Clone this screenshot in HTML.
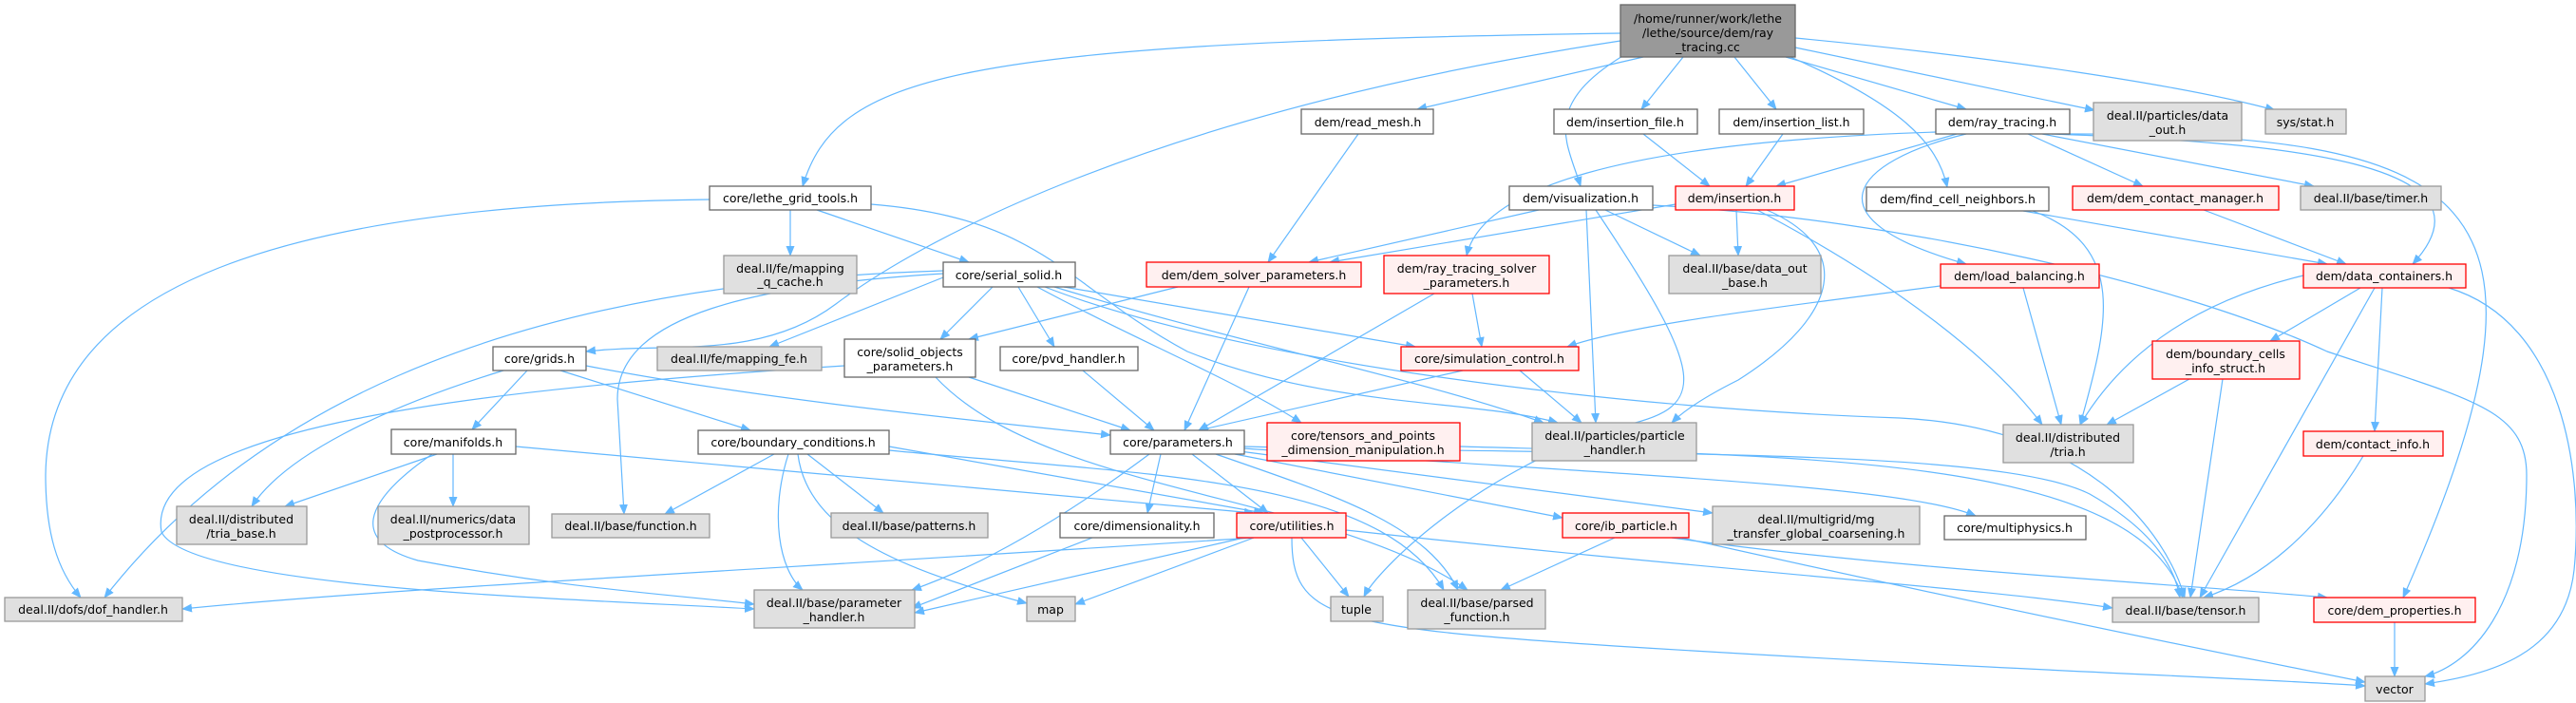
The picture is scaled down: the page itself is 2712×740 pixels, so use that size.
<!DOCTYPE html>
<html><head><meta charset="utf-8"><style>
html,body{margin:0;padding:0;background:#fff;}
svg{display:block;}
text{font-family:"DejaVu Sans","Liberation Sans",sans-serif;font-size:12.5px;fill:#000;text-anchor:middle;transform:translateY(1px);}
.e{fill:none;stroke:#63b8ff;stroke-width:1.2;marker-end:url(#a);}
.w{fill:#fff;stroke:#666;stroke-width:1.3;}
.g{fill:#e0e0e0;stroke:#999;stroke-width:1.3;}
.r{fill:#fff0f0;stroke:#ff0000;stroke-width:1.3;}
.k{fill:#999;stroke:#666;stroke-width:1.3;}
</style></head><body>
<svg width="2712" height="740" viewBox="0 0 2712 740" xmlns="http://www.w3.org/2000/svg">
<defs><marker id="a" markerWidth="11" markerHeight="9" refX="10" refY="4.5" orient="auto" markerUnits="userSpaceOnUse"><path d="M0,0 L11,4.5 L0,9z" fill="#63b8ff"/></marker></defs>
<g>
<path class="e" d="M1706,35 C1000,45 880,80 845,196"/>
<path class="e" d="M1706,43 C1200,120 960,260 880,320 S700,360 617,370"/>
<path class="e" d="M1730,60 L1492,115"/>
<path class="e" d="M1715,55 C1620,110 1650,150 1664,196"/>
<path class="e" d="M1772,60 L1728,115"/>
<path class="e" d="M1826,60 L1870,115"/>
<path class="e" d="M1880,60 L2070,115"/>
<path class="e" d="M1885,60 C2000,110 2040,150 2050,197"/>
<path class="e" d="M1890,50 L2205,116"/>
<path class="e" d="M1890,40 C2100,60 2300,90 2395,116"/>
<path class="e" d="M2060,141 L1870,196"/>
<path class="e" d="M2038,139 C1700,150 1560,200 1544,269"/>
<path class="e" d="M2070,141 C1950,170 1900,230 2070,278"/>
<path class="e" d="M2135,141 L2256,196"/>
<path class="e" d="M2150,141 L2436,196"/>
<path class="e" d="M2160,141 C2400,150 2640,170 2540,278"/>
<path class="e" d="M2170,141 C2600,140 2720,200 2530,629"/>
<path class="e" d="M1730,141 L1800,196"/>
<path class="e" d="M1877,141 L1838,196"/>
<path class="e" d="M1430,141 L1335,276"/>
<path class="e" d="M1620,221 L1378,276"/>
<path class="e" d="M1690,221 L1790,269"/>
<path class="e" d="M1670,221 L1680,445"/>
<path class="e" d="M1680,221 C1800,400 1800,430 1700,450 C1550,500 1450,600 1436,628"/>
<path class="e" d="M1740,216 C2000,230 2300,300 2450,370 C2600,420 2660,430 2660,500 C2660,640 2600,700 2553,712"/>
<path class="e" d="M1764,215 L1400,276"/>
<path class="e" d="M1828,221 L1830,269"/>
<path class="e" d="M1860,221 C1950,260 1940,330 1830,400 C1790,420 1770,435 1760,445"/>
<path class="e" d="M1850,221 C2000,300 2100,380 2150,447"/>
<path class="e" d="M1240,302 L1020,357"/>
<path class="e" d="M1315,302 L1247,453"/>
<path class="e" d="M1550,309 L1560,365"/>
<path class="e" d="M1510,309 L1262,453"/>
<path class="e" d="M2050,300 C1900,320 1720,340 1650,365"/>
<path class="e" d="M2130,303 L2170,447"/>
<path class="e" d="M2130,222 L2450,278"/>
<path class="e" d="M2140,222 C2240,260 2220,340 2190,447"/>
<path class="e" d="M2320,221 L2470,278"/>
<path class="e" d="M2485,303 L2390,359"/>
<path class="e" d="M2500,303 L2316,629"/>
<path class="e" d="M2508,303 L2500,454"/>
<path class="e" d="M2425,290 C2300,320 2230,380 2190,447"/>
<path class="e" d="M2578,303 C2700,340 2720,500 2710,600 C2700,690 2620,710 2553,720"/>
<path class="e" d="M2305,399 L2218,447"/>
<path class="e" d="M2340,399 L2306,629"/>
<path class="e" d="M2488,480 C2440,560 2380,610 2320,629"/>
<path class="e" d="M2521,655 L2521,712"/>
<path class="e" d="M1540,390 L1262,453"/>
<path class="e" d="M1600,390 L1665,445"/>
<path class="e" d="M1045,302 L990,357"/>
<path class="e" d="M1072,302 L1110,365"/>
<path class="e" d="M1120,302 L1490,365"/>
<path class="e" d="M1092,302 C1200,360 1300,400 1370,445"/>
<path class="e" d="M1110,302 C1300,360 1500,400 1625,445"/>
<path class="e" d="M1100,302 C1300,380 1700,430 2000,440 C2200,450 2280,560 2300,629"/>
<path class="e" d="M993,292 L810,365"/>
<path class="e" d="M993,285 C500,300 250,450 110,629"/>
<path class="e" d="M993,288 C800,300 650,330 650,420 L657,541"/>
<path class="e" d="M1020,397 L1190,453"/>
<path class="e" d="M889,385 C500,410 150,450 170,560 C200,620 600,630 794,641"/>
<path class="e" d="M985,397 C1100,520 1400,520 1545,621"/>
<path class="e" d="M1140,390 L1215,453"/>
<path class="e" d="M832,221 L832,269"/>
<path class="e" d="M860,221 L1020,276"/>
<path class="e" d="M747,210 C300,215 50,300 48,500 C48,560 60,600 85,629"/>
<path class="e" d="M917,215 C1100,230 1120,300 1250,370 C1400,430 1550,420 1640,445"/>
<path class="e" d="M555,390 L497,452"/>
<path class="e" d="M590,390 L790,453"/>
<path class="e" d="M530,390 C400,430 300,480 265,533"/>
<path class="e" d="M617,385 C800,420 1000,440 1169,458"/>
<path class="e" d="M460,478 L300,533"/>
<path class="e" d="M477,478 L477,533"/>
<path class="e" d="M455,478 C380,530 370,570 440,590 C600,620 700,625 794,636"/>
<path class="e" d="M543,470 C900,500 1200,530 1320,540"/>
<path class="e" d="M815,478 L700,541"/>
<path class="e" d="M850,478 L930,540"/>
<path class="e" d="M830,478 C810,540 820,600 845,621"/>
<path class="e" d="M840,478 C850,560 950,600 1081,635"/>
<path class="e" d="M936,470 L1330,540"/>
<path class="e" d="M936,474 C1200,500 1450,500 1520,621"/>
<path class="e" d="M1222,478 L1208,540"/>
<path class="e" d="M1255,478 L1335,540"/>
<path class="e" d="M1210,478 C1100,560 1020,600 960,621"/>
<path class="e" d="M1280,478 C1400,520 1500,550 1535,621"/>
<path class="e" d="M1300,478 L1645,545"/>
<path class="e" d="M1305,475 L1803,540"/>
<path class="e" d="M1310,472 C1700,500 2000,510 2080,543"/>
<path class="e" d="M1310,470 C1700,480 2100,470 2200,520 C2270,560 2290,600 2295,629"/>
<path class="e" d="M1150,566 L960,640"/>
<path class="e" d="M1320,566 C800,600 400,620 192,641"/>
<path class="e" d="M1310,566 L963,645"/>
<path class="e" d="M1320,566 L1132,636"/>
<path class="e" d="M1370,566 L1420,628"/>
<path class="e" d="M1417,558 C1800,600 2100,620 2224,640"/>
<path class="e" d="M1360,566 C1360,650 1400,660 1700,680 C2100,705 2400,715 2490,722"/>
<path class="e" d="M1700,566 L1580,621"/>
<path class="e" d="M1760,566 C2000,600 2300,615 2450,629"/>
<path class="e" d="M1770,566 C2100,640 2400,700 2490,718"/>
<path class="e" d="M1537,470 C1900,480 2250,480 2298,629"/>
</g>
<g>
<rect class="k" x="1706" y="5" width="184" height="55"/><text x="1798" y="23">/home/runner/work/lethe</text><text x="1798" y="38">/lethe/source/dem/ray</text><text x="1798" y="53">_tracing.cc</text>
<rect class="w" x="747" y="196" width="170" height="25"/><text x="832" y="212">core/lethe_grid_tools.h</text>
<rect class="g" x="762" y="269" width="140" height="40"/><text x="832" y="286">deal.II/fe/mapping</text><text x="832" y="300">_q_cache.h</text>
<rect class="w" x="519" y="365" width="98" height="25"/><text x="568" y="381">core/grids.h</text>
<rect class="g" x="692" y="365" width="173" height="25"/><text x="778" y="381">deal.II/fe/mapping_fe.h</text>
<rect class="w" x="412" y="452" width="131" height="26"/><text x="477" y="469">core/manifolds.h</text>
<rect class="w" x="735" y="453" width="201" height="25"/><text x="835" y="469">core/boundary_conditions.h</text>
<rect class="g" x="186" y="533" width="137" height="40"/><text x="254" y="550">deal.II/distributed</text><text x="254" y="565">/tria_base.h</text>
<rect class="g" x="398" y="533" width="159" height="40"/><text x="477" y="550">deal.II/numerics/data</text><text x="477" y="565">_postprocessor.h</text>
<rect class="g" x="581" y="541" width="166" height="25"/><text x="664" y="557">deal.II/base/function.h</text>
<rect class="g" x="5" y="629" width="187" height="25"/><text x="98" y="645">deal.II/dofs/dof_handler.h</text>
<rect class="g" x="794" y="621" width="169" height="40"/><text x="878" y="638">deal.II/base/parameter</text><text x="878" y="653">_handler.h</text>
<rect class="g" x="875" y="540" width="165" height="26"/><text x="957" y="557">deal.II/base/patterns.h</text>
<rect class="w" x="1370" y="115" width="139" height="26"/><text x="1440" y="132">dem/read_mesh.h</text>
<rect class="w" x="1636" y="115" width="151" height="26"/><text x="1711" y="132">dem/insertion_file.h</text>
<rect class="w" x="1810" y="115" width="152" height="26"/><text x="1886" y="132">dem/insertion_list.h</text>
<rect class="w" x="2038" y="115" width="141" height="26"/><text x="2108" y="132">dem/ray_tracing.h</text>
<rect class="g" x="2204" y="108" width="156" height="40"/><text x="2282" y="125">deal.II/particles/data</text><text x="2282" y="140">_out.h</text>
<rect class="g" x="2385" y="115" width="85" height="26"/><text x="2427" y="132">sys/stat.h</text>
<rect class="w" x="993" y="276" width="139" height="26"/><text x="1062" y="293">core/serial_solid.h</text>
<rect class="r" x="1207" y="276" width="226" height="26"/><text x="1320" y="293">dem/dem_solver_parameters.h</text>
<rect class="r" x="1457" y="269" width="174" height="40"/><text x="1544" y="286">dem/ray_tracing_solver</text><text x="1544" y="301">_parameters.h</text>
<rect class="w" x="1589" y="196" width="151" height="25"/><text x="1664" y="212">dem/visualization.h</text>
<rect class="r" x="1764" y="196" width="125" height="25"/><text x="1826" y="212">dem/insertion.h</text>
<rect class="g" x="1757" y="269" width="160" height="40"/><text x="1837" y="286">deal.II/base/data_out</text><text x="1837" y="301">_base.h</text>
<rect class="w" x="1965" y="197" width="192" height="25"/><text x="2061" y="213">dem/find_cell_neighbors.h</text>
<rect class="r" x="2182" y="196" width="217" height="25"/><text x="2290" y="212">dem/dem_contact_manager.h</text>
<rect class="g" x="2422" y="196" width="148" height="25"/><text x="2496" y="212">deal.II/base/timer.h</text>
<rect class="r" x="2043" y="278" width="167" height="25"/><text x="2126" y="294">dem/load_balancing.h</text>
<rect class="r" x="2425" y="278" width="171" height="25"/><text x="2510" y="294">dem/data_containers.h</text>
<rect class="r" x="2266" y="359" width="155" height="40"/><text x="2343" y="376">dem/boundary_cells</text><text x="2343" y="391">_info_struct.h</text>
<rect class="g" x="2109" y="447" width="137" height="40"/><text x="2177" y="464">deal.II/distributed</text><text x="2177" y="479">/tria.h</text>
<rect class="r" x="2425" y="454" width="147" height="26"/><text x="2498" y="471">dem/contact_info.h</text>
<rect class="g" x="1803" y="533" width="218" height="40"/><text x="1912" y="550">deal.II/multigrid/mg</text><text x="1912" y="565">_transfer_global_coarsening.h</text>
<rect class="w" x="2047" y="543" width="149" height="25"/><text x="2121" y="559">core/multiphysics.h</text>
<rect class="g" x="2224" y="629" width="154" height="26"/><text x="2301" y="646">deal.II/base/tensor.h</text>
<rect class="r" x="2436" y="629" width="170" height="26"/><text x="2521" y="646">core/dem_properties.h</text>
<rect class="g" x="2490" y="712" width="63" height="26"/><text x="2521" y="729">vector</text>
<rect class="w" x="889" y="357" width="138" height="40"/><text x="958" y="374">core/solid_objects</text><text x="958" y="389">_parameters.h</text>
<rect class="w" x="1053" y="365" width="145" height="25"/><text x="1125" y="381">core/pvd_handler.h</text>
<rect class="r" x="1475" y="365" width="187" height="25"/><text x="1568" y="381">core/simulation_control.h</text>
<rect class="w" x="1169" y="453" width="141" height="25"/><text x="1240" y="469">core/parameters.h</text>
<rect class="r" x="1334" y="445" width="203" height="40"/><text x="1435" y="462">core/tensors_and_points</text><text x="1435" y="477">_dimension_manipulation.h</text>
<rect class="g" x="1613" y="445" width="173" height="40"/><text x="1700" y="462">deal.II/particles/particle</text><text x="1700" y="477">_handler.h</text>
<rect class="w" x="1116" y="540" width="162" height="26"/><text x="1197" y="557">core/dimensionality.h</text>
<rect class="r" x="1302" y="540" width="115" height="26"/><text x="1360" y="557">core/utilities.h</text>
<rect class="r" x="1645" y="540" width="133" height="26"/><text x="1712" y="557">core/ib_particle.h</text>
<rect class="g" x="1081" y="628" width="51" height="26"/><text x="1106" y="645">map</text>
<rect class="g" x="1401" y="628" width="55" height="26"/><text x="1428" y="645">tuple</text>
<rect class="g" x="1482" y="621" width="145" height="41"/><text x="1555" y="638">deal.II/base/parsed</text><text x="1555" y="653">_function.h</text>
</g>
</svg>
</body></html>
